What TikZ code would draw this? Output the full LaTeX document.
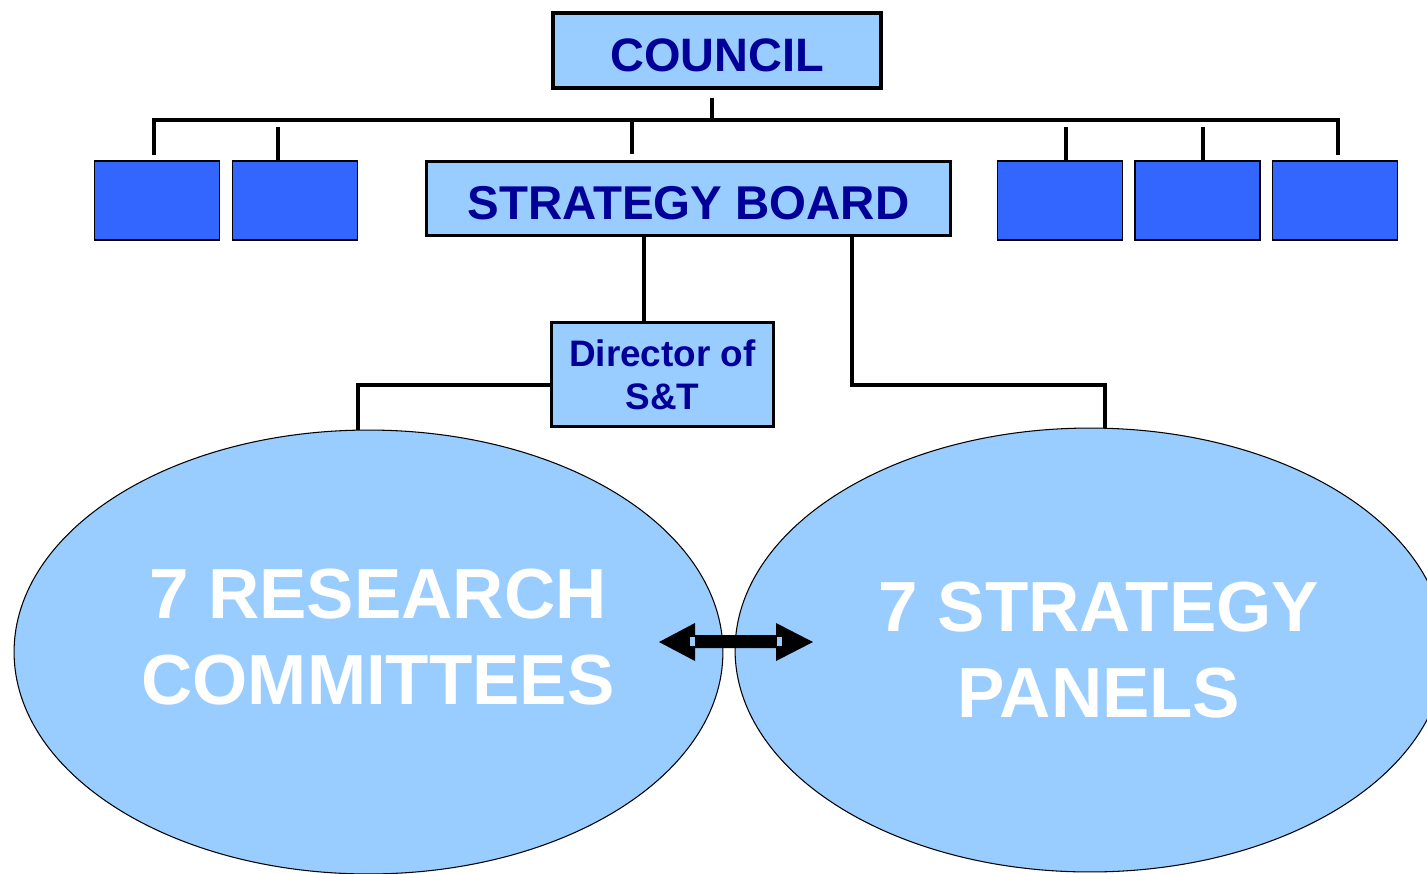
\documentclass[tikz,border=0pt]{standalone}
\usepackage{fontspec}
\setmainfont{Liberation Sans}
\usetikzlibrary{shapes.geometric}
\definecolor{lblue}{HTML}{99CCFF}
\definecolor{bblue}{HTML}{3366FF}
\definecolor{navy}{HTML}{000099}
\tikzset{
  lbox/.style={draw=black, fill=lblue, text=navy, inner sep=0pt, align=center},
  bbox/.style={draw=black, fill=bblue, line width=1.1pt, minimum width=2.5cm, minimum height=1.58cm, inner sep=0pt},
  conn/.style={line width=2.2pt},
  oval/.style={ellipse, draw=black, fill=lblue, line width=0.6pt, inner sep=0pt},
  otext/.style={text=white, font=\fontsize{40.4}{49}\selectfont\bfseries, align=center, inner sep=0pt},
  arrowshape/.style={fill=black},
  arrowtag/.style={fill=lblue}
}
\begin{document}
\begin{tikzpicture}[x=0.02cm,y=-0.02cm]
\useasboundingbox (0,0) rectangle (1427,873);
\clip (0,0) rectangle (1427,873);
\fill[white] (0,0) rectangle (1427,873);

% ellipses
\node[oval, minimum width=14.18cm, minimum height=8.88cm] (rc) at (368.5,652) {};
\node[oval, minimum width=14.2cm, minimum height=8.88cm] (sp) at (1090,650) {};
\node[otext] (rctext) at (378,637) {7 RESEARCH\\COMMITTEES};
\node[otext] (sptext) at (1099,650) {7 STRATEGY\\PANELS};

% boxes
\node[lbox, line width=2.2pt, minimum width=6.56cm, minimum height=1.5cm,
      text height=23.7pt, text depth=0pt,
      font=\fontsize{26.7}{30}\selectfont\bfseries] (council) at (717,50.5) {COUNCIL};
\node[lbox, line width=1.4pt, minimum width=10.48cm, minimum height=1.48cm,
      text height=23.4pt, text depth=0pt,
      font=\fontsize{27}{30}\selectfont\bfseries] (sb) at (688.5,198.5) {STRATEGY BOARD};
\node[lbox, line width=1.4pt, minimum width=4.44cm, minimum height=2.08cm,
      font=\fontsize{21}{24.5}\selectfont\bfseries] (dir) at (662.5,374.5) {Director of\\S\&T};

\node[bbox] (b1) at (157,200.5) {};
\node[bbox] (b2) at (295,200.5) {};
\node[bbox] (b3) at (1060,200.5) {};
\node[bbox] (b4) at (1197.5,200.5) {};
\node[bbox] (b5) at (1335,200.5) {};

% connector coordinates
\coordinate (c1) at (712,98);
\coordinate (c2) at (712,120);
\coordinate (dL) at (154,155);
\coordinate (tL) at (154,120);
\coordinate (tR) at (1338,120);
\coordinate (dR) at (1338,155);
\coordinate (t2) at (278,127);
\coordinate (t3) at (1066,127);
\coordinate (t4) at (1203,127);
\coordinate (tS) at (632,121);
\coordinate (dS) at (632,154);
\coordinate (s1) at (644,236);
\coordinate (dl) at (551,385);
\coordinate (el) at (358,430);
\coordinate (s2) at (852,236);
\coordinate (r1) at (1105,385);
\coordinate (er) at (1105,428);

\draw[conn] (c1) -- (c2);
\draw[conn] (dL) -- (tL) -- (tR) -- (dR);
\draw[conn] (t2) -- (t2 |- b2.north);
\draw[conn] (t3) -- (t3 |- b3.north);
\draw[conn] (t4) -- (t4 |- b4.north);
\draw[conn] (tS) -- (dS);
\draw[conn] (s1) -- (s1 |- dir.north);
\draw[conn] (dl) -| (el);
\draw[conn] (s2) |- (r1) -- (er);

% double arrow
\coordinate (aL) at (659,642);
\coordinate (aR) at (813,642);
\fill[arrowshape] (aL) -- (695,623) -- (695,635) -- (776,635) -- (776,623) -- (aR)
   -- (776,661) -- (776,648) -- (695,648) -- (695,661) -- cycle;
\fill[arrowtag] (690,637) rectangle (695,646);
\fill[arrowtag] (777,637) rectangle (782,646);
\end{tikzpicture}
\end{document}
